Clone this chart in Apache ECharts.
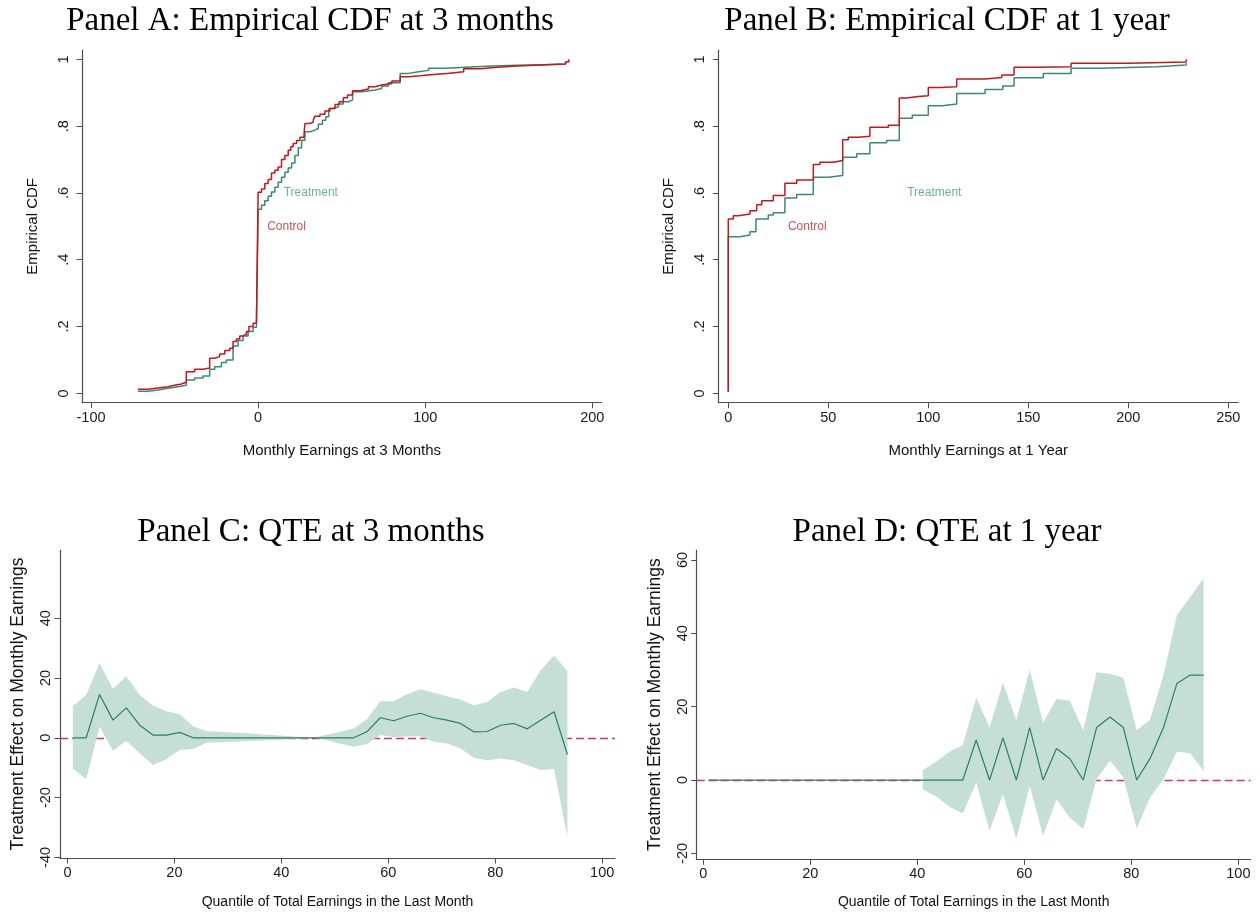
<!DOCTYPE html>
<html>
<head>
<meta charset="utf-8">
<script src="https://cdn.jsdelivr.net/npm/echarts@6.0.0/dist/echarts.min.js"></script>
<style>
html, body { margin: 0; padding: 0; background: #fff; }
#chart { width: 1259px; height: 915px; }
</style>
</head>
<body>
<div id="chart"></div>
<script>
// Panel A: empirical CDF at 3 months (step points: x, cdf after the step)
const aCtrlX = [-72, -66, -60, -54, -50, -46, -43, -38, -33, -29, -26, -23, -20, -17, -15, -13, -11, -9, -7, -5.5, -3, -1, 0, 2, 4, 6, 8, 10, 12, 14, 16, 18, 19.5, 21, 23, 25, 27.5, 28, 31, 33, 34, 37, 40, 43, 46, 48.5, 51, 53.5, 56.5, 61, 66, 70, 74, 80, 85, 90, 97, 105, 113, 123, 133, 143, 155, 169, 184, 186]
const aCtrlY = [0.012, 0.016, 0.02, 0.024, 0.028, 0.033, 0.065, 0.072, 0.076, 0.105, 0.11, 0.118, 0.128, 0.135, 0.155, 0.163, 0.172, 0.177, 0.185, 0.2, 0.21, 0.218, 0.602, 0.612, 0.628, 0.64, 0.66, 0.668, 0.678, 0.7, 0.712, 0.728, 0.738, 0.748, 0.757, 0.767, 0.778, 0.808, 0.812, 0.818, 0.83, 0.836, 0.845, 0.853, 0.865, 0.873, 0.885, 0.893, 0.906, 0.911, 0.918, 0.923, 0.928, 0.935, 0.948, 0.951, 0.955, 0.958, 0.963, 0.972, 0.976, 0.98, 0.983, 0.986, 0.993, 1.0]
const aTreatX = [-72, -66, -60, -54, -48, -43, -38, -33, -29, -26, -22, -19, -15, -12, -9, -6, -3, -1, 0, 2, 4, 6, 8, 10, 12, 14, 16, 18, 20, 22, 24, 26, 28, 31, 34, 36, 38.5, 40.5, 42.3, 45, 48, 51, 54, 56.5, 62, 70, 74, 78, 85, 90, 96, 102, 112, 124, 140, 155, 170, 184]
const aTreatY = [0.006, 0.01, 0.015, 0.02, 0.024, 0.04, 0.046, 0.052, 0.072, 0.08, 0.092, 0.1, 0.142, 0.158, 0.172, 0.185, 0.198, 0.208, 0.551, 0.563, 0.577, 0.59, 0.603, 0.617, 0.632, 0.647, 0.662, 0.675, 0.69, 0.712, 0.735, 0.758, 0.783, 0.788, 0.793, 0.806, 0.818, 0.828, 0.853, 0.858, 0.866, 0.873, 0.878, 0.903, 0.908, 0.913, 0.92, 0.93, 0.958, 0.963, 0.967, 0.973, 0.976, 0.98, 0.982, 0.984, 0.986, 0.99]

// Panel B: empirical CDF at 1 year
const bCtrlX = [0, 0, 2.5, 5, 10.8, 14.2, 16.7, 22.5, 28.3, 34.2, 42.5, 45.8, 52.5, 57.2, 60, 65, 70.8, 80, 85.5, 89, 95, 100, 106, 114.2, 128.4, 136.7, 142.9, 155, 171.4, 200, 228.9, 229]
const bCtrlY = [0.005, 0.522, 0.532, 0.537, 0.547, 0.565, 0.577, 0.592, 0.629, 0.639, 0.685, 0.692, 0.697, 0.759, 0.767, 0.77, 0.797, 0.803, 0.884, 0.889, 0.891, 0.916, 0.918, 0.941, 0.946, 0.953, 0.976, 0.978, 0.988, 0.992, 0.996, 1.0]
const bTreatX = [0, 0, 5.8, 10.8, 13.8, 20, 22.5, 28.3, 34.2, 42.5, 50, 57.2, 64.2, 70.8, 79.2, 85.5, 92, 100, 107, 114.2, 128.4, 137.2, 142.9, 157.5, 171.4, 185.8, 214.2, 228.9]
const bTreatY = [0.005, 0.469, 0.474, 0.484, 0.522, 0.534, 0.541, 0.585, 0.595, 0.647, 0.652, 0.707, 0.717, 0.75, 0.757, 0.824, 0.833, 0.861, 0.866, 0.898, 0.91, 0.92, 0.945, 0.958, 0.973, 0.978, 0.983, 0.988]

// text labels inside the CDF panels
const aLabels = [{ name: 'Treatment', x: 31.5, y: 0.6 }, { name: 'Control', x: 17, y: 0.5 }]
const bLabels = [{ name: 'Treatment', x: 103, y: 0.6 }, { name: 'Control', x: 39.5, y: 0.5 }]

// Panels C and D: quantile treatment effects
const quantiles = [1, 3.5, 6, 8.5, 11, 13.5, 16, 18.5, 21, 23.5, 26, 28.5, 31, 33.5, 36, 38.5, 41, 43.5, 46, 48.5, 51, 53.5, 56, 58.5, 61, 63.5, 66, 68.5, 71, 73.5, 76, 78.5, 81, 83.5, 86, 88.5, 91, 93.5]
const cEffect = [0, 0, 14.5, 5.9, 10.0, 4.2, 0.9, 0.9, 1.8, 0, 0, 0, 0, 0, 0, 0, 0, 0, 0, 0, 0, 0, 2.0, 6.7, 5.7, 7.2, 8.2, 6.7, 5.9, 4.8, 2.0, 2.1, 4.2, 4.8, 3.0, 5.9, 8.7, -5.6]
const cUpper = [10.6, 14.3, 24.9, 16.3, 20.6, 14.3, 10.7, 8.9, 7.9, 3.9, 2.2, 2.0, 1.8, 1.5, 1.2, 0.9, 0.6, 0.3, 0.0, 1.0, 2.0, 3.1, 6.2, 12.2, 12.2, 14.6, 16.2, 15.1, 13.9, 12.8, 10.8, 12.0, 15.3, 16.8, 15.3, 22.6, 27.4, 22.3]
const cLower = [-10.3, -13.9, 3.7, -4.3, -1.0, -5.2, -9.1, -7.2, -4.1, -3.7, -1.7, -1.5, -1.3, -1.1, -0.9, -0.7, -0.5, -0.3, 0.0, -0.8, -2.0, -3.0, -2.1, 0.9, 0.3, 0.4, 0.5, -1.3, -1.9, -3.6, -6.7, -7.5, -6.9, -7.5, -9.1, -10.8, -10.4, -33.1]
const dEffect = [0, 0, 0, 0, 0, 0, 0, 0, 0, 0, 0, 0, 0, 0, 0, 0, 0, 0, 0, 0, 10.9, 0, 11.5, 0, 14.3, 0, 8.6, 5.8, 0, 14.3, 17.2, 14.3, 0, 5.9, 14.3, 26.3, 28.6, 28.6]
const dUpper = [null, null, null, null, null, null, null, null, null, null, null, null, null, null, null, null, 2.7, 5.0, 7.7, 9.5, 22.4, 14.3, 26.5, 16.3, 30.1, 15.6, 22.1, 21.6, 13.6, 29.4, 29.0, 27.9, 13.6, 16.5, 28.6, 44.9, 49.9, 54.9]
const dLower = [null, null, null, null, null, null, null, null, null, null, null, null, null, null, null, null, -2.5, -4.5, -7.3, -9.1, -0.7, -13.9, -3.8, -16.0, -1.6, -15.2, -5.3, -10.2, -13.4, 0.2, 5.3, 0.7, -13.2, -4.7, 0.2, 7.7, 7.3, 2.5]

// tick labels
const aXTicks = [-100, 0, 100, 200]
const bXTicks = [0, 50, 100, 150, 200, 250]
const cdfYTicks = [0, 0.2, 0.4, 0.6, 0.8, 1]
const qXTicks = [0, 20, 40, 60, 80, 100]
const cYTicks = [-40, -20, 0, 20, 40]
const dYTicks = [-20, 0, 20, 40, 60]

const RED = '#c4161c'
const GREEN = '#3a8a72'
const BAND = '#c5dfd8'
const QLINE = '#2e7e66'
const ZERO = '#d8385e'
const AXIS = '#4d4d4d'
const SANS = 'Liberation Sans'
const labelColor = { Treatment: '#4a9c83', Control: '#c8262b' }

const zip = (xs, ys) => xs.map((x, i) => [x, ys[i]])

function xAxis(gi, min, max, ticks, name, labelMargin, nameGap, nameSize) {
  return {
    type: 'value', gridIndex: gi, min: min, max: max,
    name: name, nameLocation: 'middle', nameGap: nameGap,
    nameTextStyle: { fontFamily: SANS, fontSize: nameSize, color: '#111' },
    axisLine: { onZero: false, lineStyle: { color: AXIS, width: 1.2 } },
    axisTick: { customValues: ticks, length: 5.5, lineStyle: { color: AXIS, width: 1 } },
    axisLabel: { customValues: ticks, margin: labelMargin, fontFamily: SANS, fontSize: 14.5, color: '#1a1a1a' },
    splitLine: { show: false },
  }
}

function yAxis(gi, min, max, ticks, name, labelMargin, nameGap, nameSize, fmt) {
  return {
    type: 'value', gridIndex: gi, min: min, max: max,
    name: name, nameLocation: 'middle', nameGap: nameGap,
    nameTextStyle: { fontFamily: SANS, fontSize: nameSize, color: '#111' },
    axisLine: { onZero: false, lineStyle: { color: AXIS, width: 1.2 } },
    axisTick: { customValues: ticks, length: 5.5, lineStyle: { color: AXIS, width: 1 } },
    axisLabel: { customValues: ticks, rotate: 90, margin: labelMargin, fontFamily: SANS, fontSize: 14.5, color: '#1a1a1a', formatter: fmt },
    splitLine: { show: false },
  }
}

// stata style ".2" labels
const cdfFmt = v => (v === 0 || v === 1) ? String(v) : String(v).replace(/^0/, '')

function cdfLine(gi, xs, ys, color) {
  return {
    type: 'line', xAxisIndex: gi, yAxisIndex: gi, data: zip(xs, ys),
    step: 'end', symbol: 'none', silent: true,
    lineStyle: { color: color, width: 1.5 }, z: 3,
  }
}

function textLabels(gi, items) {
  return {
    type: 'scatter', xAxisIndex: gi, yAxisIndex: gi, symbolSize: 0, silent: true, z: 4,
    data: items.map(d => ({ name: d.name, value: [d.x, d.y], label: { color: labelColor[d.name] } })),
    label: { show: true, position: 'inside', formatter: '{b}', fontFamily: SANS, fontSize: 12 },
  }
}

// confidence band drawn as one polygon through the axis scales
function band(gi, lo, hi) {
  const rows = quantiles.map((q, i) => [q, lo[i], hi[i]]).filter(r => r[1] !== null)
  return {
    type: 'custom', xAxisIndex: gi, yAxisIndex: gi, silent: true, z: 10,
    data: rows, encode: { x: 0, y: [1, 2] },
    renderItem: function (params, api) {
      if (params.dataIndex !== 0) return null
      const top = rows.map(r => api.coord([r[0], r[2]]))
      const bot = rows.map(r => api.coord([r[0], r[1]])).reverse()
      return { type: 'polygon', shape: { points: top.concat(bot) }, style: { fill: BAND } }
    },
  }
}

function zeroLine(gi) {
  return {
    type: 'line', xAxisIndex: gi, yAxisIndex: gi, data: [], z: 1, silent: true,
    markLine: {
      z: 1, silent: true, symbol: 'none', animation: false,
      label: { show: false },
      lineStyle: { color: ZERO, type: [8, 4], width: 1.3 },
      data: [{ yAxis: 0 }],
    },
  }
}

function qteLine(gi, ys) {
  return {
    type: 'line', xAxisIndex: gi, yAxisIndex: gi, data: zip(quantiles, ys),
    symbol: 'none', silent: true, z: 11,
    lineStyle: { color: QLINE, width: 1.2 },
  }
}

const titleStyle = { fontFamily: 'Liberation Serif', fontSize: 33, fontWeight: 'normal', color: '#000' }

const chart = echarts.init(document.getElementById('chart'), null, { renderer: 'canvas' })
chart.setOption({
  animation: false,
  backgroundColor: '#fff',
  title: [
    { text: 'Panel A: Empirical CDF at 3 months', left: 310, top: 5, textAlign: 'center', padding: 0, textStyle: titleStyle },
    { text: 'Panel B: Empirical CDF at 1 year', left: 947, top: 5, textAlign: 'center', padding: 0, textStyle: titleStyle },
    { text: 'Panel C: QTE at 3 months', left: 311, top: 516, textAlign: 'center', padding: 0, textStyle: titleStyle },
    { text: 'Panel D: QTE at 1 year', left: 947, top: 516, textAlign: 'center', padding: 0, textStyle: titleStyle },
  ],
  grid: [
    { left: 82, top: 50, width: 519.7, height: 352.7 },
    { left: 718.3, top: 50, width: 520, height: 352.7 },
    { left: 60, top: 550, width: 555, height: 308 },
    { left: 696.7, top: 550, width: 554, height: 309.3 },
  ],
  xAxis: [
    xAxis(0, -105.4, 205.6, aXTicks, 'Monthly Earnings at 3 Months', 8, 41, 15),
    xAxis(1, -5, 255, bXTicks, 'Monthly Earnings at 1 Year', 8, 41, 15),
    xAxis(2, -1.4, 102.4, qXTicks, 'Quantile of Total Earnings in the Last Month', 7.5, 37, 14),
    xAxis(3, -1.23, 102.3, qXTicks, 'Quantile of Total Earnings in the Last Month', 7.5, 36, 14),
  ],
  yAxis: [
    yAxis(0, -0.028, 1.028, cdfYTicks, 'Empirical CDF', 11, 42, 15, cdfFmt),
    yAxis(1, -0.028, 1.028, cdfYTicks, 'Empirical CDF', 11, 42, 15, cdfFmt),
    yAxis(2, -40.2, 62.8, cYTicks, 'Treatment Effect on Monthly Earnings', 6.5, 33, 17.5),
    yAxis(3, -21.6, 62.7, dYTicks, 'Treatment Effect on Monthly Earnings', 6, 33, 17.5),
  ],
  series: [
    cdfLine(0, aTreatX, aTreatY, GREEN),
    cdfLine(0, aCtrlX, aCtrlY, RED),
    textLabels(0, aLabels),
    cdfLine(1, bTreatX, bTreatY, GREEN),
    cdfLine(1, bCtrlX, bCtrlY, RED),
    textLabels(1, bLabels),
    zeroLine(2),
    band(2, cLower, cUpper),
    qteLine(2, cEffect),
    zeroLine(3),
    band(3, dLower, dUpper),
    qteLine(3, dEffect),
  ],
})
</script>
</body>
</html>
